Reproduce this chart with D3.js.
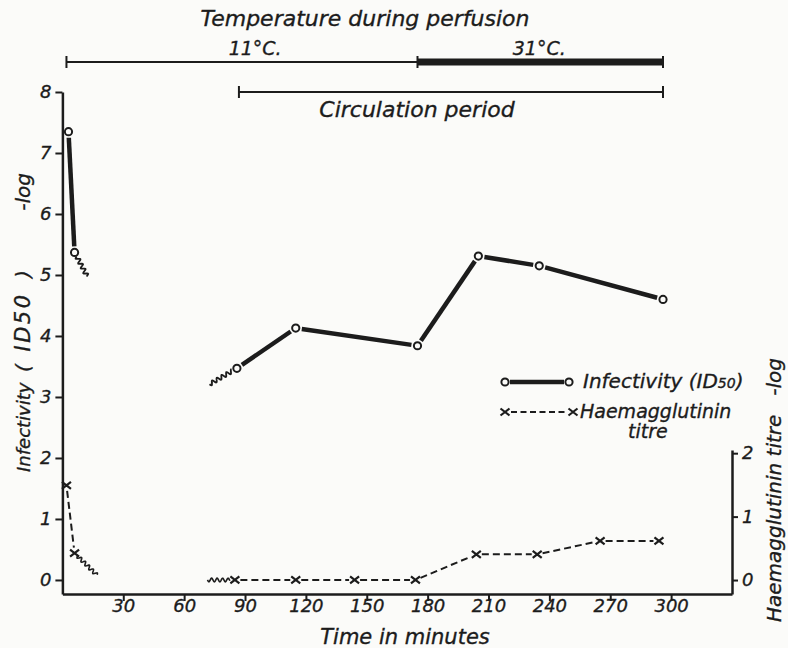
<!DOCTYPE html>
<html><head><meta charset="utf-8">
<script src="https://cdn.jsdelivr.net/npm/d3@7"></script>
<style>
body{margin:0;background:#fbfbf9;}
svg text{font-family:"DejaVu Sans",sans-serif;font-style:italic;fill:#1c1c1c;stroke:#1c1c1c;stroke-width:0.35px;}
</style></head><body>
<svg id="c" width="788" height="648"></svg>
<script>
// ---- data ----
const infTime=[3,6,86,115,175,205,235,296];
const infVal=[7.35,5.37,3.47,4.13,3.84,5.31,5.15,4.60];
const infRuns=[[0,1],[2,3,4,5,6,7]];
const haTime=[2,6,85,115,144,174,204,234,265,294];
const haVal=[1.55,0.44,0,0,0,0,0.42,0.42,0.64,0.64];
const haRuns=[[0,1],[2,3,4,5,6,7,8,9]];
const infBreaks=[[[6,5.37],[12.2,4.98]],[[72.5,3.21],[86,3.47]]];
const haBreaks=[[[6,0.44],[17,0.08]],[[71.5,0],[85,0]]];
const xTicks=[30,60,90,120,150,180,210,240,270,300];
const yTicks=[0,1,2,3,4,5,6,7,8];
const yRTicks=[0,1,2];
const tempStart=[2,175];
const tempEnd=[175,296];
const tempLabels=["11°C.","31°C."];
const tempLabelTime=[95,235];
const circStart=87, circEnd=296;

const INK="#1c1c1c", BG="#fbfbf9";
const svg=d3.select("#c");
svg.append("rect").attr("width",788).attr("height",648).attr("fill",BG);

const x=d3.scaleLinear().domain([0,330]).range([62.4,732]);
const y=d3.scaleLinear().domain([-0.23,8]).range([594,92]);
const yR=d3.scaleLinear().domain([-0.22,2.05]).range([594,450]);

function styleAxis(g,fs){
  g.attr("font-family",null).attr("font-size",null);
  g.selectAll("path.domain").attr("stroke",INK).attr("stroke-width",2.5);
  g.selectAll(".tick line").attr("stroke",INK).attr("stroke-width",2);
  g.selectAll(".tick text").style("font-size",fs+"px").attr("fill",INK);
}
const gx=svg.append("g").attr("transform","translate(0,594)")
  .call(d3.axisBottom(x).tickValues(xTicks).tickSize(7).tickSizeOuter(0).tickFormat(d3.format("d")));
styleAxis(gx,18);
gx.selectAll(".tick text").attr("y",18).attr("dy",0);
const gy=svg.append("g").attr("transform","translate(62.4,0)")
  .call(d3.axisLeft(y).tickValues(yTicks).tickSize(7).tickSizeOuter(0).tickPadding(4).tickFormat(d3.format("d")));
styleAxis(gy,18);
const gr=svg.append("g").attr("transform","translate(732,0)")
  .call(d3.axisRight(yR).tickValues(yRTicks).tickSize(6).tickSizeOuter(0).tickPadding(4).tickFormat(d3.format("d")));
styleAxis(gr,18);

function squiggle(p0,p1,amp,wl){
  const dx=p1[0]-p0[0], dy=p1[1]-p0[1], L=Math.hypot(dx,dy);
  const ux=dx/L, uy=dy/L, nx=-uy, ny=ux, n=Math.max(10,Math.round(L*2));
  const pts=[];
  for(let i=0;i<=n;i++){const s=i/n*L, o=amp*Math.sin(2*Math.PI*s/wl);
    pts.push([p0[0]+ux*s+nx*o,p0[1]+uy*s+ny*o]);}
  return d3.line()(pts);
}
function shorten(a,b,g0,g1){
  const dx=b[0]-a[0], dy=b[1]-a[1], L=Math.hypot(dx,dy);
  return [[a[0]+dx/L*g0,a[1]+dy/L*g0],[b[0]-dx/L*g1,b[1]-dy/L*g1]];
}
const R=3.6;
infRuns.forEach(run=>{
  for(let k=0;k<run.length-1;k++){
    const i=run[k], j=run[k+1];
    const s=shorten([x(infTime[i]),y(infVal[i])],[x(infTime[j]),y(infVal[j])],R+2.5,R+2.5);
    svg.append("line").attr("x1",s[0][0]).attr("y1",s[0][1]).attr("x2",s[1][0]).attr("y2",s[1][1])
      .attr("stroke",INK).attr("stroke-width",4.5);
  }
});
infBreaks.forEach((b,bi)=>{
  const p0=[x(b[0][0]),y(b[0][1])], p1=[x(b[1][0]),y(b[1][1])];
  const s=shorten(p0,p1,bi===0?R+1:0,bi===1?R+1.5:0);
  svg.append("path").attr("d",squiggle(s[0],s[1],2,5.5)).attr("fill","none").attr("stroke",INK).attr("stroke-width",1.8);
});
svg.selectAll("circle.inf").data(infTime).join("circle").attr("class","inf")
  .attr("cx",d=>x(d)).attr("cy",(d,i)=>y(infVal[i])).attr("r",R)
  .attr("fill",BG).attr("stroke",INK).attr("stroke-width",2);

haRuns.forEach(run=>{
  for(let k=0;k<run.length-1;k++){
    const i=run[k], j=run[k+1];
    const s=shorten([x(haTime[i]),y(haVal[i])],[x(haTime[j]),y(haVal[j])],5.5,5.5);
    svg.append("line").attr("x1",s[0][0]).attr("y1",s[0][1]).attr("x2",s[1][0]).attr("y2",s[1][1])
      .attr("stroke",INK).attr("stroke-width",2).attr("stroke-dasharray","7,4");
  }
});
haBreaks.forEach((b,bi)=>{
  const p0=[x(b[0][0]),y(b[0][1])], p1=[x(b[1][0]),y(b[1][1])];
  const s=shorten(p0,p1,bi===0?4:0,bi===1?5:0);
  svg.append("path").attr("d",squiggle(s[0],s[1],1.8,5.5)).attr("fill","none").attr("stroke",INK).attr("stroke-width",1.6);
});
function cross(g,cx,cy){
  g.append("path").attr("d",`M${cx-4.5},${cy-3.5}L${cx+4.5},${cy+3.5}M${cx-4.5},${cy+3.5}L${cx+4.5},${cy-3.5}`)
    .attr("stroke",INK).attr("stroke-width",2.2).attr("fill","none");
}
haTime.forEach((t,i)=>cross(svg,x(t),y(haVal[i])));

// top annotations
svg.append("text").attr("x",365).attr("y",26).attr("text-anchor","middle").style("font-size","22px").text("Temperature during perfusion");
const TY=62;
tempStart.forEach((t0,i)=>{
  svg.append("line").attr("x1",x(t0)).attr("x2",x(tempEnd[i])).attr("y1",TY).attr("y2",TY)
    .attr("stroke",INK).attr("stroke-width",i===1?7:2);
  svg.append("text").attr("x",x(tempLabelTime[i])).attr("y",55).attr("text-anchor","middle").style("font-size","19px").text(tempLabels[i]);
});
[tempStart[0],tempStart[1],tempEnd[1]].forEach(t=>{
  svg.append("line").attr("x1",x(t)).attr("x2",x(t)).attr("y1",TY-6).attr("y2",TY+6).attr("stroke",INK).attr("stroke-width",2);
});
const CY=92;
svg.append("line").attr("x1",x(circStart)).attr("x2",x(circEnd)).attr("y1",CY).attr("y2",CY).attr("stroke",INK).attr("stroke-width",2);
[circStart,circEnd].forEach(t=>svg.append("line").attr("x1",x(t)).attr("x2",x(t)).attr("y1",CY-6).attr("y2",CY+6).attr("stroke",INK).attr("stroke-width",2));
svg.append("text").attr("x",417).attr("y",117).attr("text-anchor","middle").style("font-size","22px").text("Circulation period");

// axis titles
svg.append("text").attr("x",405).attr("y",644).attr("text-anchor","middle").style("font-size","21px").text("Time in minutes");
const lt=svg.append("g").attr("transform","translate(30,0)");
function vtext(g,yy,anchor,str,fs,ls){
  return g.append("text").attr("transform",`translate(0,${yy}) rotate(-90)`).attr("text-anchor",anchor)
    .style("font-size",fs+"px").style("letter-spacing",(ls||0)+"px").text(str);
}
vtext(lt,472,"start","Infectivity",18);
vtext(lt,368,"middle","(",20);
vtext(lt,322,"middle","ID50",21,2.5);
vtext(lt,274,"middle",")",20);
vtext(lt,173,"end","-log",20);
const rt=svg.append("g").attr("transform","translate(781,0)");
vtext(rt,622,"start","Haemagglutinin titre",20);
vtext(rt,358,"end","-log",20);

// legend
const lg=svg.append("g");
lg.append("line").attr("x1",510).attr("x2",564).attr("y1",382).attr("y2",382).attr("stroke",INK).attr("stroke-width",4.5);
[505,569].forEach(cx=>lg.append("circle").attr("cx",cx).attr("cy",382).attr("r",R).attr("fill",BG).attr("stroke",INK).attr("stroke-width",2));
const t1=lg.append("text").attr("x",583).attr("y",388).style("font-size","20px");
t1.append("tspan").text("Infectivity (ID");
t1.append("tspan").style("font-size","14px").text("50");
t1.append("tspan").text(")");
lg.append("line").attr("x1",511).attr("x2",567).attr("y1",412).attr("y2",412).attr("stroke",INK).attr("stroke-width",2).attr("stroke-dasharray","6,3.5");
cross(lg,505,412); cross(lg,573,412);
lg.append("text").attr("x",580).attr("y",418).style("font-size","19px").text("Haemagglutinin");
lg.append("text").attr("x",628).attr("y",438).style("font-size","19px").text("titre");
</script></body></html>
